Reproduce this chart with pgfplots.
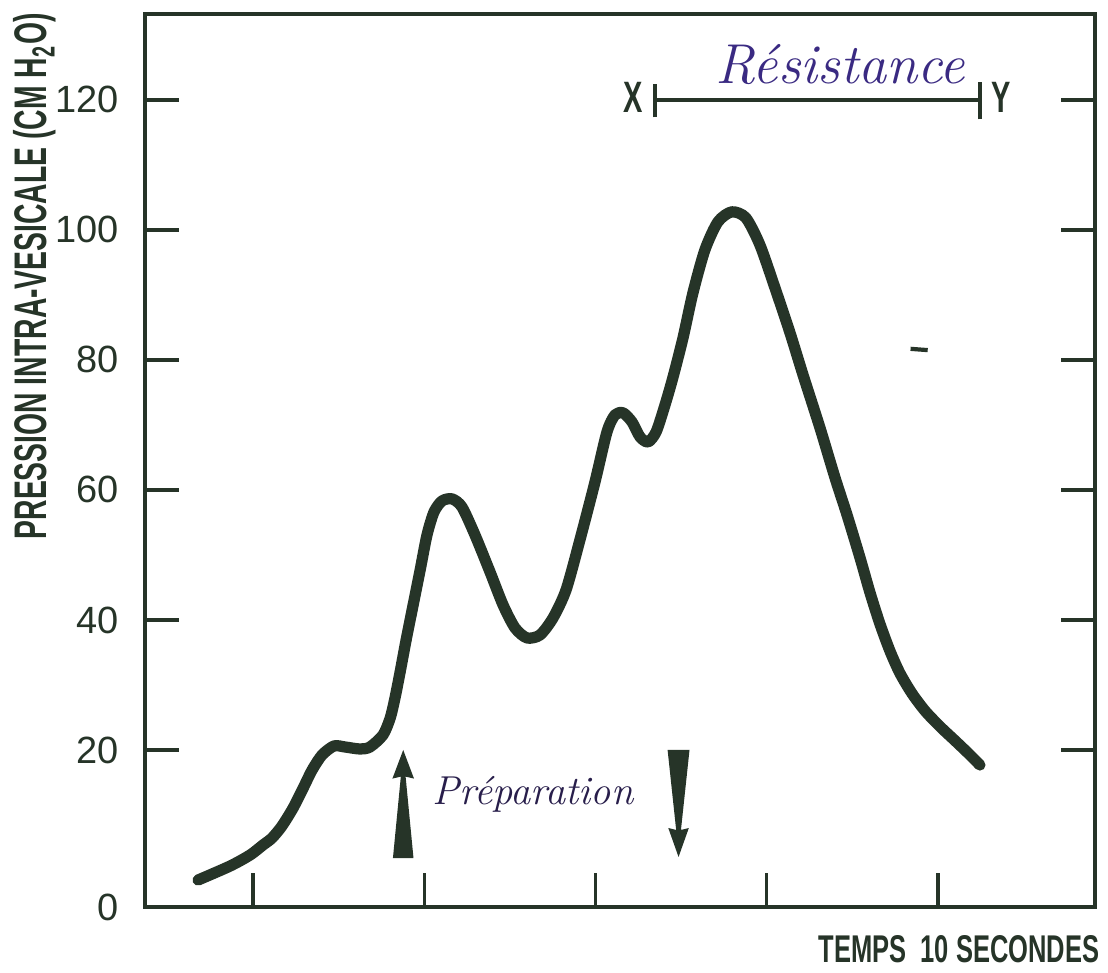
\documentclass[border=0pt]{standalone}
\usepackage{fontspec}
\usepackage{pgfplots}
\pgfplotsset{compat=1.18}
\newfontfamily\sans{Liberation Sans}
\newfontfamily\conda[FakeStretch=0.62]{Liberation Sans}
\newfontfamily\condb[FakeStretch=0.66]{Liberation Sans}
\newfontfamily\hand{Latin Modern Roman}
\definecolor{ink}{RGB}{38,52,40}
\definecolor{pen}{RGB}{58,42,130}
\definecolor{pen2}{RGB}{40,30,75}

% pressure trace (x: s, y: cm H2O)
\pgfplotstableread{
t p
6.79 0.0
8.66 2.15
9.83 3.85
10.58 5.38
11.11 6.46
11.69 8.31
12.34 11.08
12.93 14.15
13.45 16.92
14.03 19.23
14.73 20.62
15.37 20.46
16.25 20.15
16.83 20.46
17.59 22.31
18.01 24.92
18.29 28.00
18.59 32.00
18.94 36.92
19.35 42.31
19.76 47.69
20.16 53.08
20.57 56.62
21.04 58.31
21.62 58.62
22.20 57.38
22.96 53.08
23.84 47.38
24.60 42.31
25.30 38.77
26.00 37.23
26.76 37.69
27.52 40.31
28.28 44.62
29.09 52.31
29.97 61.23
30.67 68.92
31.14 71.54
31.61 71.85
32.13 70.46
32.60 68.15
33.07 67.38
33.54 68.92
34.06 73.08
34.53 77.38
35.11 83.38
35.69 90.31
36.39 96.92
37.15 101.23
37.96 102.77
38.78 101.85
39.60 97.69
40.48 91.08
41.36 84.15
42.12 77.69
43.11 69.54
43.99 61.85
44.69 56.15
45.45 49.54
46.03 44.20
46.61 39.40
47.20 35.20
47.78 31.80
48.48 28.70
49.25 26.00
50.12 23.60
50.99 21.45
51.75 19.54
52.45 17.69
}\trace

\begin{document}
\begin{tikzpicture}
\begin{axis}[
    scale only axis,
    width=9.5cm, height=8.93cm,
    xmin=3.69, xmax=59.17,
    ymin=-4.15, ymax=133.2,
    clip=false,
    axis line style={line width=1.2pt, draw=ink},
    tick align=inside,
    major tick length=0.34cm,
    tick style={line width=1pt, draw=ink},
    xtick={10,20,30,40,50},
    xticklabels={},
    xtick pos=left,
    ytick pos=both,
    ytick={-4.15,20,40,60,80,100,120},
    yticklabels={0,20,40,60,80,100,120},
    yticklabel style={font=\sans\fontsize{10.8}{12}\selectfont, text=ink, xshift=-0.14cm},
    /pgf/number format/assume math mode=true,
]
\addplot[smooth, tension=0.45, line width=3.2pt, draw=ink, line cap=round, line join=round] table[x=t, y=p] {\trace};

% Resistance bar X-Y
\draw[line width=1pt, draw=ink] (axis cs:33.48,120) -- (axis cs:52.45,120);
\draw[line width=1pt, draw=ink] (axis cs:33.48,117.3) -- (axis cs:33.48,122.5);
\draw[line width=1pt, draw=ink] (axis cs:52.45,117.0) -- (axis cs:52.45,122.8);
\node[font=\condb\bfseries\fontsize{12.5}{14}\selectfont, text=ink] at (axis cs:32.2,120.4) {X};
\node[font=\condb\bfseries\fontsize{12.5}{14}\selectfont, text=ink] at (axis cs:53.7,120.4) {Y};
\node[font=\hand\itshape\fontsize{16}{18}\selectfont, text=pen] at (axis cs:44.3,125.4) {Résistance};

% Preparation arrows
\fill[ink] (axis cs:18.17,3.38) -- (axis cs:19.37,3.38) -- (axis cs:18.91,15.9) -- (axis cs:19.40,15.6)
  -- (axis cs:18.77,20.0) -- (axis cs:18.14,15.6) -- (axis cs:18.63,15.9) -- cycle;
\fill[ink] (axis cs:34.21,20.0) -- (axis cs:35.49,20.0) -- (axis cs:34.99,7.7) -- (axis cs:35.45,8.0)
  -- (axis cs:34.85,3.54) -- (axis cs:34.25,8.0) -- (axis cs:34.71,7.7) -- cycle;
\node[font=\hand\itshape\fontsize{11.5}{14}\selectfont, text=pen2] at (axis cs:26.35,13.1) {Préparation};

% stray mark on the scan
\draw[line width=1.2pt, draw=ink] (axis cs:48.4,81.7) -- (axis cs:49.4,81.5);

% axis labels
\node[rotate=90, anchor=west, inner sep=0pt, font=\conda\bfseries\fontsize{13}{15}\selectfont, text=ink]
  at ([xshift=-1.1cm, yshift=3.67cm]rel axis cs:0,0) {PRESSION INTRA-VESICALE (CM H\textsubscript{2}O)};
\node[anchor=north east, font=\condb\bfseries\fontsize{11}{13}\selectfont, text=ink, inner sep=0pt]
  at ([xshift=0.05cm, yshift=-0.28cm]rel axis cs:1,0) {TEMPS\ \ 10 SECONDES};
\end{axis}
\path (-1.45cm,-0.66cm) rectangle (9.63cm,9.07cm);
\end{tikzpicture}
\end{document}
